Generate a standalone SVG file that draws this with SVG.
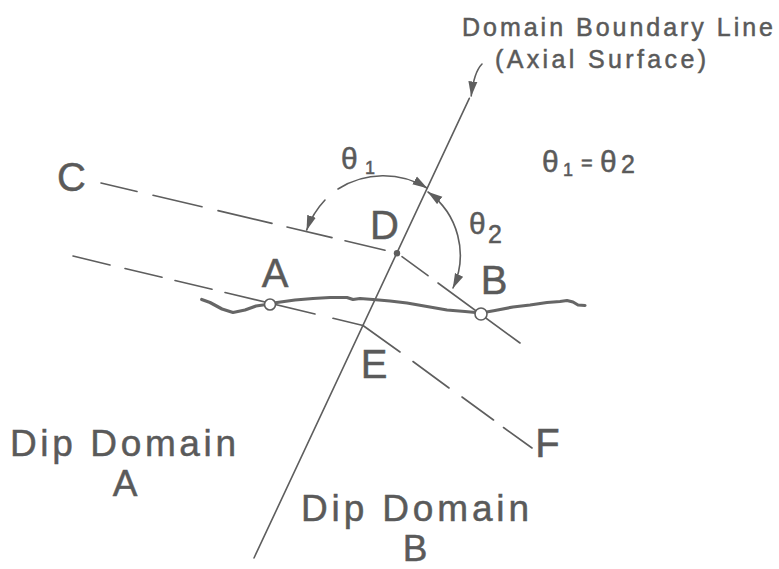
<svg xmlns="http://www.w3.org/2000/svg" width="779" height="569" viewBox="0 0 779 569">
<defs>
<style>
.t{font-family:"Liberation Sans",Arial,Helvetica,sans-serif;fill:#5a5a5a;stroke:#5a5a5a;stroke-width:0.5}
.lbl{font-size:40px;text-anchor:middle}
.dd{font-size:37px}
.hd{font-size:25px}
.ln{stroke:#5e5e5e;stroke-width:1.6;fill:none;stroke-linecap:round}
.gr{stroke:#666666;stroke-width:3.2;fill:none;stroke-linejoin:round;stroke-linecap:round}
.pt{fill:#ffffff;stroke:#5e5e5e;stroke-width:1.6}
</style>
<marker id="ah" viewBox="0 0 15 10" refX="14.5" refY="5" markerWidth="15" markerHeight="10" markerUnits="userSpaceOnUse" orient="auto-start-reverse">
<path d="M0,0.5 L15,5 L0,9.5 z" fill="#5e5e5e"/>
</marker>
</defs>
<rect width="779" height="569" fill="#ffffff"/>

<g id="connectors">
  <line class="ln" x1="469.3" y1="98.3" x2="254" y2="558"/>
  <path class="ln" d="M482,64 Q474,72 471.2,96" marker-end="url(#ah)"/>
  <path class="ln" d="M101,183 L137,191.5 M153,195.2 L202,206.8 M218,210.6 L272,223.4 M287,227 L332,237.6 M345,240.7 L385,250.2"/>
  <path class="ln" d="M402,256.7 L428,275.7 M438,283 L520,343"/>
  <path class="ln" d="M73,256 L110,265 M125,268.5 L162,277.3 M175,280.5 L212,289.3 M225,292.5 L315,314 M333,318.3 L363,325.5"/>
  <path class="ln" d="M363,325.5 L400,352 M413,361.5 L449,388 M462,397 L493.5,420 M503.5,427.5 L532,448"/>
  <polyline class="gr" points="201.7,299.5 210,302.5 222,309 233,312.5 245,310 256,306 263,305 270,304 277,302.5 295,300 313,298.5 330,297.5 347,297.5 353,299.5 360,298.5 373,299.5 390,301 407,303 427,306.5 447,310 465,311.5 481,313 495,310.5 513,307 530,305 547,302.5 560,301.5 567,300.5 573,302 578,305 585,305.5"/>
  <path class="ln" d="M338,189 A84,84 0 0 1 427,188" marker-end="url(#ah)"/>
  <path class="ln" d="M325,200 A84,84 0 0 0 306.7,230" marker-end="url(#ah)"/>
  <path class="ln" d="M428,192 A78,78 0 0 1 453,288" marker-start="url(#ah)" marker-end="url(#ah)"/>
</g>

<g id="point-D"><circle cx="397" cy="253.3" r="3.2" fill="#5e5e5e"/><text class="t lbl" x="384.5" y="239">D</text></g>
<g id="point-A"><circle class="pt" cx="270" cy="304.5" r="5.5"/><text class="t lbl" x="275" y="287">A</text></g>
<g id="point-B"><circle class="pt" cx="481" cy="314" r="6"/><text class="t lbl" x="494" y="294">B</text></g>
<g id="point-C"><text class="t lbl" x="71.5" y="191">C</text></g>
<g id="point-E"><text class="t lbl" x="374" y="378">E</text></g>
<g id="point-F"><text class="t lbl" x="547.5" y="457">F</text></g>

<g id="boundary-label">
  <text class="t hd" x="462" y="36" textLength="311" lengthAdjust="spacing">Domain Boundary Line</text>
  <text class="t hd" x="495" y="68" textLength="211" lengthAdjust="spacing">(Axial Surface)</text>
</g>

<g id="theta1-label"><text class="t" x="341" y="169" font-size="30">θ<tspan font-size="18" x="365" y="174">1</tspan></text></g>
<g id="theta2-label"><text class="t" x="469" y="234" font-size="30">θ<tspan font-size="25" x="488" y="243">2</tspan></text></g>
<g id="equality-label"><text class="t" x="542" y="172" font-size="30">θ<tspan font-size="18" x="563" y="176">1</tspan><tspan font-size="20" x="581" y="170">=</tspan><tspan font-size="30" x="600" y="172">θ</tspan><tspan font-size="25" x="621" y="173">2</tspan></text></g>

<g id="domain-A"><text class="t dd" x="10" y="456" textLength="226" lengthAdjust="spacing">Dip Domain</text><text class="t dd" x="125" y="496" text-anchor="middle">A</text></g>
<g id="domain-B"><text class="t dd" x="301" y="521" textLength="228" lengthAdjust="spacing">Dip Domain</text><text class="t dd" x="415" y="561" text-anchor="middle">B</text></g>
</svg>
